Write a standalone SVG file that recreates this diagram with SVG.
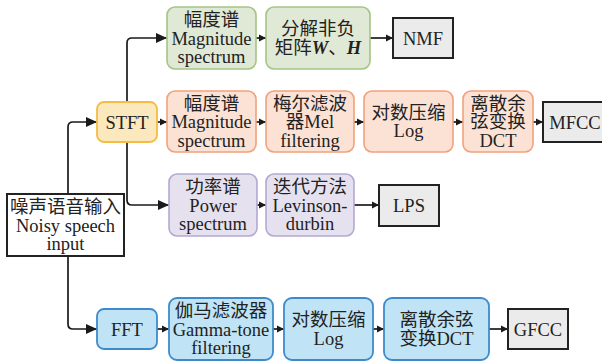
<svg xmlns="http://www.w3.org/2000/svg" width="602" height="362" viewBox="0 0 602 362">
<style>
text{font-family:"Liberation Serif","Noto Sans CJK SC",serif;font-size:18.5px;fill:#222;text-anchor:middle}
.g{fill:#e0e9d5;stroke:#a3c585;stroke-width:1.6}
.o{fill:#fbe2d5;stroke:#f1a27c;stroke-width:1.6}
.p{fill:#e5e1ef;stroke:#b4a8d3;stroke-width:1.6}
.b{fill:#c0e4f6;stroke:#3d8bcb;stroke-width:1.8}
.y{fill:#fce8bd;stroke:#f6bb45;stroke-width:1.8}
.k{fill:#ebebeb;stroke:#222;stroke-width:2}
.w{fill:#fff;stroke:#222;stroke-width:2}
.c path{fill:none;stroke:#1a1a1a;stroke-width:1.7}
.L{marker-end:url(#ab)}
.S{marker-end:url(#as)}
</style>
<defs>
<marker id="ab" markerUnits="userSpaceOnUse" markerWidth="12" markerHeight="10" refX="11" refY="5" orient="auto"><path d="M0,0 L11,5 L0,10 Z" fill="#1a1a1a"/></marker>
<marker id="as" markerUnits="userSpaceOnUse" markerWidth="8" markerHeight="8" refX="7" refY="4" orient="auto"><path d="M0,0.5 L7,4 L0,7.5 Z" fill="#1a1a1a"/></marker>
</defs>
<g class="c" id="connectors">
<path class="L" d="M68,194 V127 Q68,122 73,122 H97"/>
<path class="L" d="M68,256 V324 Q68,329 73,329 H97"/>
<path class="L" d="M127,102 V43 Q127,38 132,38 H167"/>
<path class="L" d="M127,142 V200 Q127,205 132,205 H169"/>
<path class="S" d="M157,122 H167"/>
<path class="S" d="M256,122 H266"/>
<path class="S" d="M354,122 H364"/>
<path class="S" d="M453,122 H463"/>
<path class="S" d="M533,122 H543"/>
<path class="S" d="M256,38 H266"/>
<path class="S" d="M370,38 H393"/>
<path class="S" d="M257,205 H266"/>
<path class="S" d="M354,205 H379"/>
<path class="S" d="M157,329 H169"/>
<path class="S" d="M273,329 H284"/>
<path class="S" d="M373,329 H384"/>
<path class="S" d="M489,329 H508"/>
</g>
<g id="input"><rect class="w" x="7" y="194" width="117" height="62"/><text x="65.5" y="213">噪声语音输入</text><text x="65.5" y="231.5">Noisy speech</text><text x="65.5" y="250">input</text></g>
<g id="stft"><rect class="y" x="97" y="102" width="60" height="40" rx="7"/><text x="127" y="128.5">STFT</text></g>
<g id="mag1"><rect class="g" x="167" y="7" width="89" height="62" rx="8"/><text x="211.5" y="26">幅度谱</text><text x="211.5" y="44.5">Magnitude</text><text x="211.5" y="63">spectrum</text></g>
<g id="nmfdec"><rect class="g" x="266" y="7" width="104" height="62" rx="8"/><text x="318" y="35">分解非负</text><text x="318" y="53.5">矩阵<tspan font-weight="bold" font-style="italic">W</tspan>、<tspan font-weight="bold" font-style="italic">H</tspan></text></g>
<g id="nmf"><rect class="k" x="393" y="18" width="60" height="40"/><text x="423" y="44.5">NMF</text></g>
<g id="mag2"><rect class="o" x="167" y="91" width="89" height="61" rx="8"/><text x="211.5" y="109.5">幅度谱</text><text x="211.5" y="128">Magnitude</text><text x="211.5" y="146.5">spectrum</text></g>
<g id="mel"><rect class="o" x="266" y="91" width="88" height="61" rx="8"/><text x="310" y="109.5">梅尔滤波</text><text x="310" y="128">器Mel</text><text x="310" y="146.5">filtering</text></g>
<g id="log1"><rect class="o" x="364" y="91" width="89" height="61" rx="8"/><text x="408.5" y="118.5">对数压缩</text><text x="408.5" y="137">Log</text></g>
<g id="dct1"><rect class="o" x="463" y="91" width="70" height="61" rx="8"/><text x="498" y="109.5">离散余</text><text x="498" y="128">弦变换</text><text x="498" y="146.5">DCT</text></g>
<g id="mfcc"><rect class="k" x="543" y="102" width="62" height="40"/><text x="575" y="128.5">MFCC</text></g>
<g id="power"><rect class="p" x="169" y="174" width="88" height="62" rx="8"/><text x="213" y="193">功率谱</text><text x="213" y="211.5">Power</text><text x="213" y="230">spectrum</text></g>
<g id="lev"><rect class="p" x="266" y="174" width="88" height="62" rx="8"/><text x="310" y="193">迭代方法</text><text x="310" y="211.5">Levinson-</text><text x="310" y="230">durbin</text></g>
<g id="lps"><rect class="k" x="379" y="185" width="60" height="41"/><text x="409" y="212">LPS</text></g>
<g id="fft"><rect class="b" x="97" y="309" width="60" height="40" rx="7"/><text x="127" y="335.5">FFT</text></g>
<g id="gamma"><rect class="b" x="169" y="298" width="104" height="62" rx="8"/><text x="221" y="317">伽马滤波器</text><text x="221" y="335.5">Gamma-tone</text><text x="221" y="354">filtering</text></g>
<g id="log2"><rect class="b" x="284" y="298" width="89" height="62" rx="8"/><text x="328.5" y="326">对数压缩</text><text x="328.5" y="344.5">Log</text></g>
<g id="dct2"><rect class="b" x="384" y="298" width="105" height="62" rx="8"/><text x="436.5" y="326">离散余弦</text><text x="436.5" y="344.5">变换DCT</text></g>
<g id="gfcc"><rect class="k" x="508" y="309" width="60" height="40"/><text x="538" y="335.5">GFCC</text></g>
</svg>
